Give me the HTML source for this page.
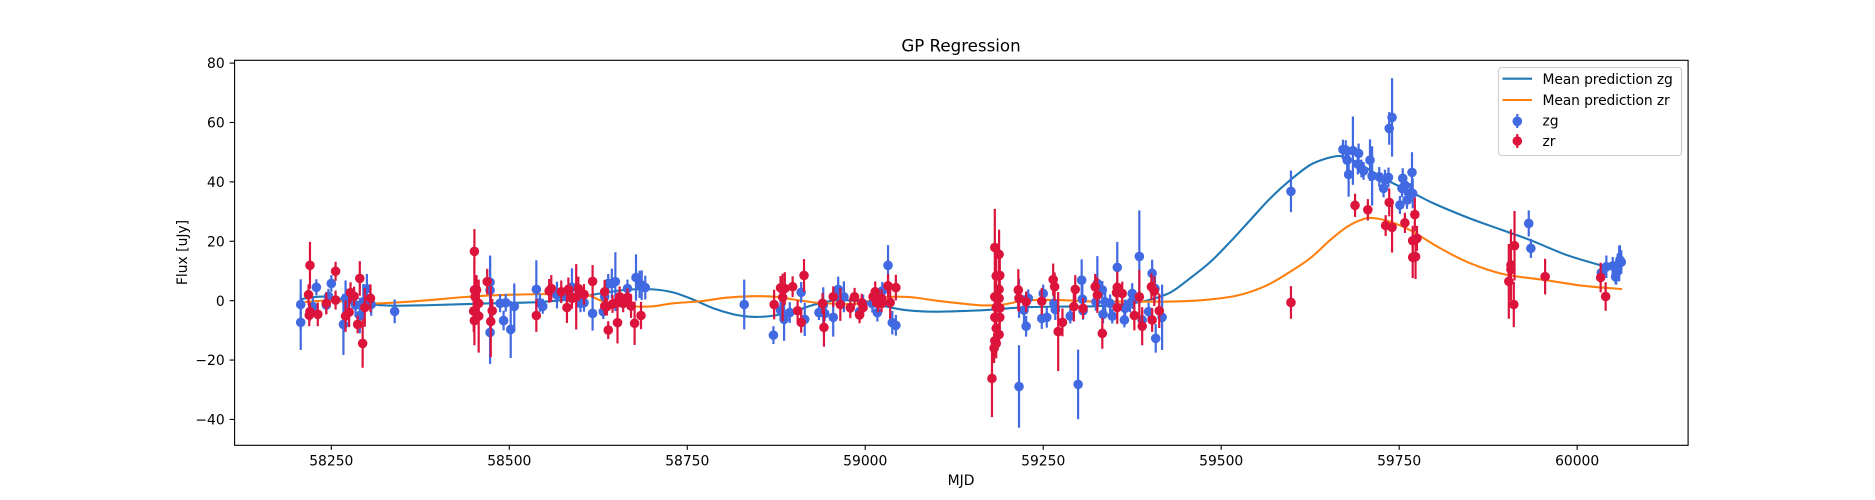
<!DOCTYPE html>
<html lang="en">
<head>
<meta charset="utf-8">
<title>GP Regression</title>
<style>
html,body{margin:0;padding:0;background:#fff;}
svg{display:block;font-family:"DejaVu Sans","Liberation Sans",sans-serif;fill:#000;}
</style>
</head>
<body>
<svg id="chart" xmlns="http://www.w3.org/2000/svg" width="1875" height="500" viewBox="0 0 1875 500">
  <rect x="0" y="0" width="1875" height="500" fill="#fff"/>
  <g id="lines"></g>
  <g id="zg"></g>
  <g id="zr"></g>
  <g id="xaxis"></g>
  <g id="yaxis"></g>
  <rect x="234.6" y="60.3" width="1453.5" height="385" fill="none" stroke="#000" stroke-width="1.11"/>
  <text x="961" y="51.5" font-size="16.67" text-anchor="middle">GP Regression</text>
  <text x="961" y="485" font-size="13.89" text-anchor="middle">MJD</text>
  <text transform="translate(187,252.5) rotate(-90)" font-size="13.89" text-anchor="middle">Flux [uJy]</text>
  <g>
    <rect x="1498.5" y="67.5" width="183" height="88" rx="3" ry="3" fill="#fff" fill-opacity="0.8" stroke="#ccc" stroke-width="1.11"/>
    <line x1="1502.5" x2="1532" y1="78.7" y2="78.7" stroke="#1f77b4" stroke-width="2.08"/>
    <text x="1542.5" y="83.8" font-size="13.89" letter-spacing="-0.12">Mean prediction zg</text>
    <line x1="1502.5" x2="1532" y1="100" y2="100" stroke="#ff7f0e" stroke-width="2.08"/>
    <text x="1542.5" y="105" font-size="13.89" letter-spacing="-0.12">Mean prediction zr</text>
    <line x1="1517.3" x2="1517.3" y1="114" y2="128" stroke="#4169e1" stroke-width="2.2"/>
    <circle cx="1517.3" cy="121.3" r="4.8" fill="#4169e1"/>
    <text x="1542.5" y="125.5" font-size="13.89">zg</text>
    <line x1="1517.3" x2="1517.3" y1="134" y2="148" stroke="#dc143c" stroke-width="2.2"/>
    <circle cx="1517.3" cy="141" r="4.8" fill="#dc143c"/>
    <text x="1542.5" y="146" font-size="13.89">zr</text>
  </g>
</svg>
<script>
const xTicks = [58250, 58500, 58750, 59000, 59250, 59500, 59750, 60000];
const yTicks = [-40, -20, 0, 20, 40, 60, 80];

const lineZgMjd = [58207,58230,58251,58306,58339,58389,58473,58538,58576,58590,58642,58674,58702,58730,58758,58787,58815,58838,58857,58873,58899,58922,58946,58969,59006,59030,59058,59095,59147,59180,59217,59264,59320,59367,59395,59428,59456,59485,59513,59541,59569,59597,59625,59648,59667,59685,59713,59736,59770,59798,59845,59892,59934,59985,60032,60062];
const lineZgFlux = [0.5,1.3,1.1,-1.2,-1.7,-1.5,-0.9,-0.5,0.2,0.8,3,3.8,3.8,2.8,0.4,-2.6,-4.6,-5.4,-5.4,-5.0,-3.7,-1.8,-0.3,0.2,-0.7,-2,-3.2,-3.7,-3.4,-3.0,-2.3,-2.0,-1.9,-1.1,0,2.7,7.5,13.1,19.9,27.2,34.5,40.6,45.7,47.9,48.7,47.3,43.4,40.2,36.2,32.8,28.1,24,20.4,15.4,12,10.2];
const lineZrMjd = [58213,58249,58306,58342,58389,58431,58478,58548,58604,58627,58651,58679,58702,58730,58768,58805,58843,58875,58899,58922,58946,58985,59011,59039,59067,59100,59133,59166,59194,59227,59273,59320,59367,59428,59475,59522,59560,59592,59625,59653,59677,59700,59714,59737,59765,59808,59845,59883,59911,59953,60009,60063];
const lineZrFlux = [-0.4,0,-0.9,-0.6,0.2,1.1,1.8,2.2,2.1,0.2,-1.5,-2,-1.9,-0.9,-0.2,1,1.5,1.3,0.4,-0.4,-0.9,-1.1,0.2,1.3,1.1,0,-0.9,-1.6,-1.3,0.1,0.2,-0.3,-0.3,-0.3,0.2,1.7,4.7,9,14.3,20.4,24.9,27.5,27.8,26.6,23.8,17.6,13.1,9.8,8.3,7,5,3.9];

const zgMjd = [58207,58207,58224,58229,58246,58250,58243,58267,58270,58273,58284,58290,58295,58300,58306,58339,58473,58473,58473,58487,58495,58492,58502,58507,58538,58543,58547,58567,58581,58588,58600,58605,58617,58632,58634,58639,58644,58649,58666,58678,58683,58686,58691,58830,58871,58881,58886,58894,58910,58915,58935,58941,58943,58955,58962,58970,58992,58997,59010,59017,59024,59032,59038,59043,59216,59216,59223,59229,59226,59248,59250,59255,59265,59267,59288,59299,59304,59305,59306,59324,59326,59333,59334,59337,59344,59347,59354,59364,59365,59372,59375,59376,59385,59389,59398,59403,59407,59408,59417,59598,59671,59675,59677,59679,59685,59693,59692,59697,59700,59709,59712,59722,59728,59730,59735,59736,59740,59751,59754,59755,59758,59761,59765,59768,59769,59932,59935,60034,60041,60050,60054,60055,60057,60059,60060,60062];
const zgFlux = [-1.3,-7.3,-2,4.5,1.5,5.8,-1.5,-8,0.8,0,-1.5,-5,-0.4,4,-1.3,-3.6,6.2,3.5,-10.7,-0.9,-0.7,-6.7,-9.7,-1.9,3.8,-0.7,-1.9,1.9,1.3,4.5,-0.9,-0.7,-4.3,-3.7,1.3,5.8,5.8,6.4,4.1,7.8,5.5,5.2,4.4,-1.3,-11.6,-3.2,-6.3,-4,2.8,-6.3,-4,-1.5,-4.3,-5.6,3.8,1.3,-3.7,-1,-1,-4,3.3,11.9,-7.4,-8.3,-28.9,0.8,-3.2,0.8,-8.6,-6,2.4,-5.6,-0.9,-3,-5.2,-28.2,6.9,0.5,-3.4,-0.4,5.8,3.6,-4.6,-0.4,-0.9,-5.2,11.2,-6.5,-2.6,-0.9,2.4,0.2,14.9,-6.5,-3.7,9.2,4.1,-12.7,-5.6,36.8,50.9,50.7,47.3,42.5,50.5,49.6,46,44.5,43.7,47.3,42,41.7,37.8,40.6,41.5,58,61.7,32.2,37.8,41.2,38.9,33.9,36.1,43.2,36.1,26,17.6,9.4,11.4,11.7,8,9.4,11.4,12.5,13.7,13];
const zgErr = [8.5,9.3,3,2.7,2.5,2.8,3,10.3,6,4,4,6,6,5,3.8,4,9,11,10.6,3,3,3.3,9.6,7.7,9.8,3,2.5,4.5,4,6.4,3,3,5.8,2.5,4,3.2,5,9.9,3,7.8,4.6,5,4,8.4,3,3,7.2,3.5,3.5,5.6,2.5,6,2.5,6.5,4.3,5.2,3,3,3,3,3,6.8,4,3.5,13.9,6.6,5,3,3.5,3.5,3,3.5,3,3.5,2.5,11.7,7,5,3,3,9.2,3,3,4,3,2.5,8.6,2.5,3,3,3.5,3,15.5,3,3,4.6,4,4.8,11,7,3.3,3.3,4,7.5,11.5,3.3,3.5,3,3,7,10,3.3,3,3.5,3.3,5.5,13.2,3,3,3.4,3.4,3,3.5,6.8,5,4.4,3.2,3,3.8,3,2.5,4,4.5,6,5,4];

const zrMjd = [58220,58218,58220,58219,58231,58243,58256,58256,58270,58275,58277,58282,58287,58290,58294,58297,58305,58451,58451,58452,58450,58451,58457,58457,58454,58469,58476,58474,58538,58556,58559,58573,58581,58583,58588,58594,58597,58605,58617,58634,58634,58639,58637,58645,58652,58652,58655,58660,58666,58671,58676,58685,58872,58881,58884,58887,58898,58905,58910,58914,58940,58942,58955,58965,58979,58985,58992,58995,58997,59011,59014,59018,59023,59023,59032,59035,59043,59182,59188,59184,59189,59188,59182,59188,59184,59189,59182,59189,59184,59188,59182,59184,59181,59178,59215,59216,59226,59248,59264,59266,59271,59277,59293,59295,59306,59323,59326,59333,59353,59354,59354,59361,59378,59385,59389,59402,59406,59403,59413,59598,59688,59706,59736,59731,59740,59758,59772,59775,59769,59769,59773,59904,59907,59907,59912,59911,59955,60033,60040];
const zrFlux = [11.9,2,-3.7,-4.9,-4.6,-0.9,9.9,0.2,-5.2,-3.9,2.7,1.5,-8,7.5,-14.4,-2.3,0.8,16.6,3.6,1.3,-3.5,-6.7,-5.2,-0.9,3.6,6.4,-3.4,-7,-5,3.3,4.1,3,-2.3,3.8,0.8,1.3,4.1,2.1,6.5,3,-1.8,-9.9,-2,-1.1,-0.4,-7.4,1.3,-0.9,1.1,-1.8,-7.6,-5,-1.3,4.3,1.1,4.1,4.7,-3.4,-7.3,8.5,-0.9,-9,1.3,-1.3,-2.4,1.3,-4.8,-0.7,-2.3,1.3,3,-0.9,0.8,-0.9,5,-0.6,4.4,17.9,15.6,8.3,8.5,3.8,1.3,0.8,-2.3,-2.5,-5.6,-5.6,-9.3,-11.4,-13.5,-14.4,-16,-26.2,3.6,0.8,-0.4,-0.2,7.1,4.7,-10.4,-7.3,-2,3.8,-2.6,4.7,1.9,-11,2.7,4.5,-2.3,2.4,-5,1.3,-8.6,4.7,3.2,-6.5,-3.4,-0.6,32.1,30.6,33.1,25.3,24.7,26.2,29,21,20.2,14.6,14.8,6.5,12,10.5,18.5,-1.3,8.1,7.8,1.4];
const zrErr = [7.9,3.5,3,3.7,4,3.7,3.2,3.2,5.3,5,3.5,3.2,3,5.8,8.2,6.5,4.7,7.5,10,6,7,8.3,12.3,6,5,4.3,4,12,5.5,4,4.5,3.8,5.2,4,3.5,11,4,3.5,5.5,4,3,3,3,3,3,7,3.5,3,3,4,7.3,4.6,5,4,8,5.5,3.5,3.5,3.5,5.5,3.5,6.5,3.5,5.5,3.5,3,2.8,3,3,3,3.5,3,3,3,4,5.5,4.3,13,8.3,6,6,4,4,4,5,4,5,4,5,4,5,5,5,13,7,4.5,3.5,4.5,5.4,4.8,13.3,4.7,5,4.8,3.5,4.3,6,5.2,3.5,5.3,5.5,4,5,9,6.4,4.5,5,4,5.8,5.5,3.9,3.6,4.7,3.5,8.5,3.4,5.7,4.2,5,7,7.5,12.6,12,8,11.7,7.6,6,5,4.8];

const xLimits = [58114, 60155];
const yLimits = [-48.6, 81.04];
const plotBox = {left: 234.5, right: 1687.5, top: 60, bottom: 445};

const SVGNS = 'http://www.w3.org/2000/svg';
function xScale(v) {
  return plotBox.left + (v - xLimits[0]) / (xLimits[1] - xLimits[0]) * (plotBox.right - plotBox.left);
}
function yScale(v) {
  return plotBox.bottom - (v - yLimits[0]) / (yLimits[1] - yLimits[0]) * (plotBox.bottom - plotBox.top);
}
function make(tag, attrs) {
  const el = document.createElementNS(SVGNS, tag);
  for (const k in attrs) el.setAttribute(k, attrs[k]);
  return el;
}
function smoothPath(xs, ys) {
  const p = xs.map(function (x, i) { return [xScale(x), yScale(ys[i])]; });
  let d = 'M' + p[0][0].toFixed(2) + ' ' + p[0][1].toFixed(2);
  for (let i = 0; i < p.length - 1; i++) {
    const a = p[Math.max(i - 1, 0)], b = p[i], c = p[i + 1], e = p[Math.min(i + 2, p.length - 1)];
    const c1x = b[0] + (c[0] - a[0]) / 6, c1y = b[1] + (c[1] - a[1]) / 6;
    const c2x = c[0] - (e[0] - b[0]) / 6, c2y = c[1] - (e[1] - b[1]) / 6;
    d += 'C' + c1x.toFixed(2) + ' ' + c1y.toFixed(2) + ' ' + c2x.toFixed(2) + ' ' + c2y.toFixed(2) + ' ' + c[0].toFixed(2) + ' ' + c[1].toFixed(2);
  }
  return d;
}

const linesGroup = document.getElementById('lines');
const pathZg = make('path', {d: smoothPath(lineZgMjd, lineZgFlux), fill: 'none', stroke: '#1f77b4', 'stroke-width': 2.08});


linesGroup.appendChild(pathZg);
const pathZr = make('path', {d: smoothPath(lineZrMjd, lineZrFlux), fill: 'none', stroke: '#ff7f0e', 'stroke-width': 2.08});


linesGroup.appendChild(pathZr);

function drawSeries(groupId, label, color, mjd, flux, err) {
  const g = document.getElementById(groupId);
  mjd.forEach(function (m, i) {
    const bar = make('line', {x1: xScale(m), x2: xScale(m), y1: yScale(flux[i] - err[i]), y2: yScale(flux[i] + err[i]), stroke: color, 'stroke-width': 2.2});
    
    
    g.appendChild(bar);
  });
  mjd.forEach(function (m, i) {
    const dot = make('circle', {cx: xScale(m), cy: yScale(flux[i]), r: 4.8, fill: color});
    
    
    g.appendChild(dot);
  });
}
drawSeries('zg', 'zg', '#4169e1', zgMjd, zgFlux, zgErr);
drawSeries('zr', 'zr', '#dc143c', zrMjd, zrFlux, zrErr);

const xAxisGroup = document.getElementById('xaxis');
xTicks.forEach(function (t) {
  const px = xScale(t);
  const tick = make('line', {x1: px, x2: px, y1: plotBox.bottom, y2: plotBox.bottom + 4.86, stroke: '#000', 'stroke-width': 1.11});
  
  
  xAxisGroup.appendChild(tick);
  const lab = make('text', {x: px, y: 465.3, 'font-size': 13.89, 'text-anchor': 'middle'});
  
  
  lab.textContent = String(t);
  xAxisGroup.appendChild(lab);
});

const yAxisGroup = document.getElementById('yaxis');
yTicks.forEach(function (t) {
  const py = yScale(t);
  const tick = make('line', {x1: plotBox.left - 4.86, x2: plotBox.left, y1: py, y2: py, stroke: '#000', 'stroke-width': 1.11});
  
  
  yAxisGroup.appendChild(tick);
  const lab = make('text', {x: 224.7, y: py + 5.1, 'font-size': 13.89, 'text-anchor': 'end'});
  
  
  lab.textContent = String(t).replace('-', '\u2212');
  yAxisGroup.appendChild(lab);
});
</script>
</body>
</html>
